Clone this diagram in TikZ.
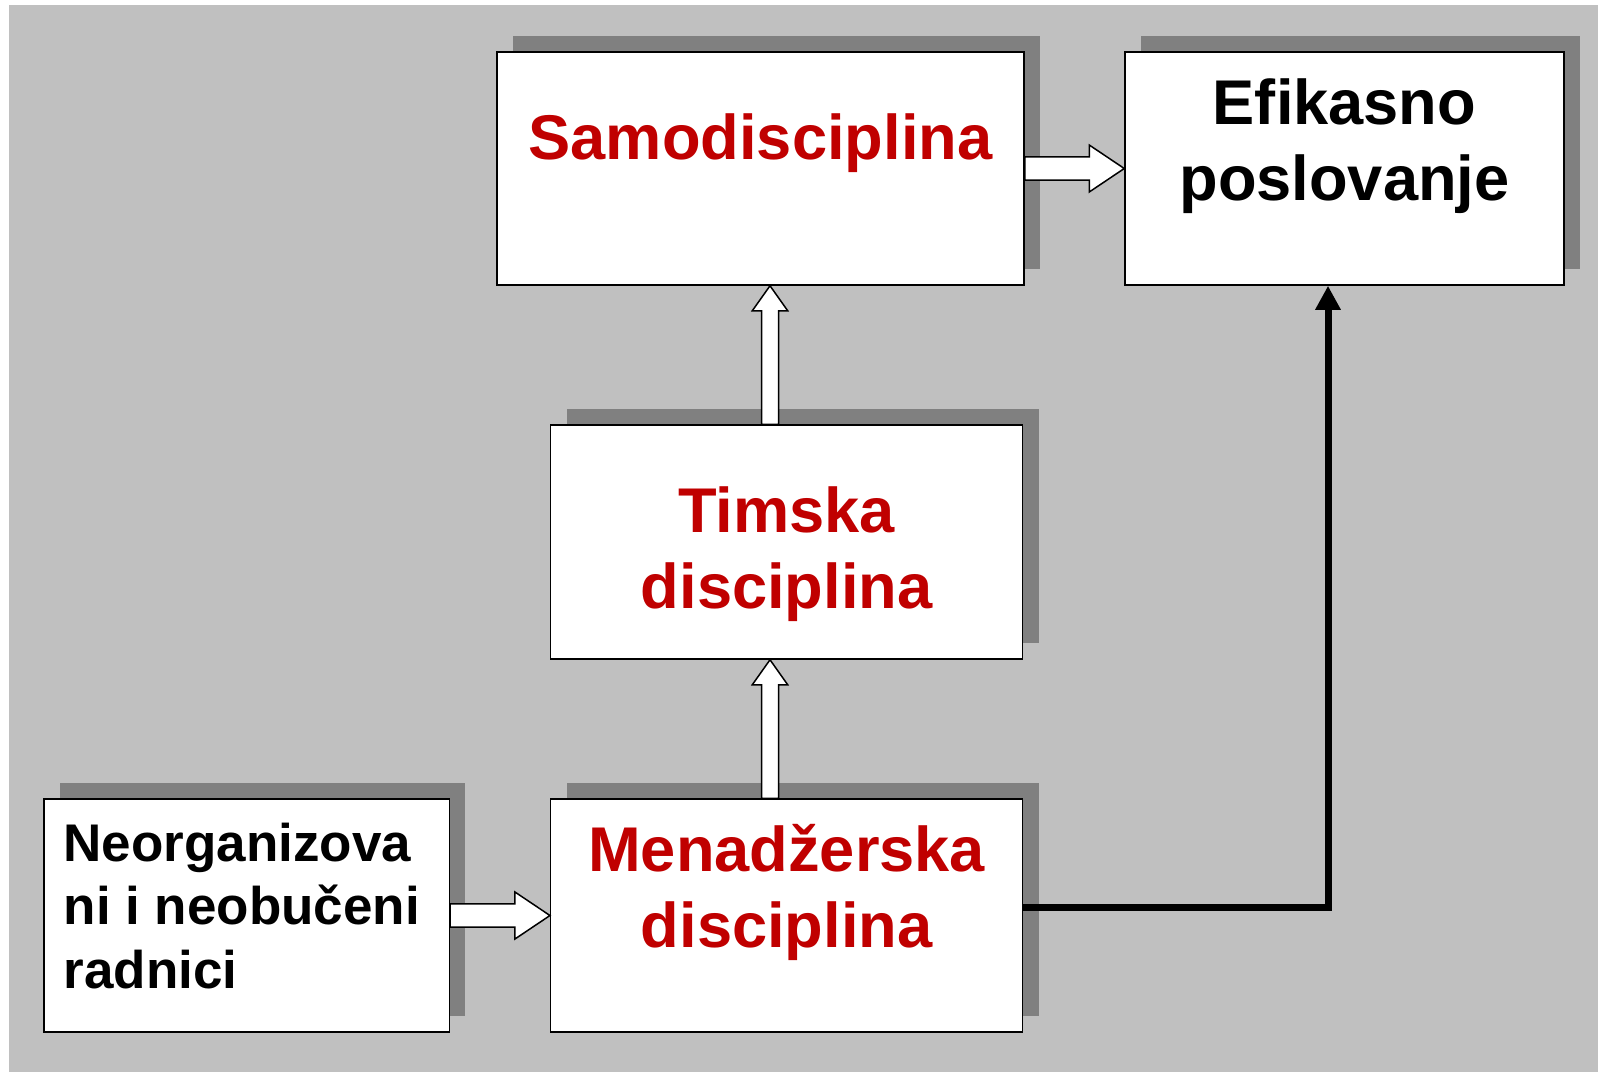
\documentclass[tikz,border=0pt]{standalone}
\usepackage{fontspec}
\setmainfont{Liberation Sans}
\usetikzlibrary{arrows.meta,positioning,calc,shadows}
\definecolor{panel}{HTML}{C0C0C0}
\definecolor{shade}{HTML}{808080}
\definecolor{accentred}{HTML}{C00000}
\tikzset{
  stagebox/.style={draw=black,fill=white,line width=0.75pt,inner sep=0pt,
                   drop shadow={shadow xshift=8pt,shadow yshift=8pt,fill=shade,opacity=1}},
  redlabel/.style={inner sep=0pt,align=center,text=accentred,
                   font=\fontsize{31.6pt}{38pt}\selectfont\bfseries},
  inklabel/.style={inner sep=0pt,align=center,text=black,
                   font=\fontsize{31.6pt}{38pt}\selectfont\bfseries},
  leftlabel/.style={inner sep=0pt,align=left,text=black,
                    font=\fontsize{26.5pt}{31.75pt}\selectfont\bfseries},
  blockarr/.style={draw=black,fill=white,line width=0.75pt,line join=miter},
  thickarr/.style={-{Triangle[length=12pt,width=12pt]},line width=3.5pt,line join=miter}
}
% block arrow: start, end, shaft half width, head half width, head length
\newcommand{\blockarrow}[5]{%
  \coordinate (neck) at ($(#2)!#5!(#1)$);
  \draw[blockarr] ($(#1)!#3!90:(#2)$) -- ($(neck)!#3!-90:(#1)$)
    -- ($(neck)!#4!-90:(#1)$) -- (#2) -- ($(neck)!#4!90:(#1)$)
    -- ($(neck)!#3!90:(#1)$) -- ($(#1)!#3!-90:(#2)$) -- cycle;
}

\begin{document}
\begin{tikzpicture}[x=0.5pt,y=-0.5pt]
  \useasboundingbox (0,0) rectangle (1602,1072);
  \fill[panel] (9,5) rectangle (1598,1072);

  % stages
  \node[stagebox,minimum width=263.5pt,minimum height=116.5pt] (samo) at (760.5,168.5) {};
  \node[stagebox,minimum width=219.5pt,minimum height=116.5pt] (efik) at (1344.5,168.5) {};
  \node[stagebox,minimum width=236pt,minimum height=117pt] (timska) at (786.7,542) {};
  \node[stagebox,minimum width=236pt,minimum height=116.5pt] (menad) at (786.7,915.5) {};
  \node[stagebox,minimum width=202.7pt,minimum height=116.5pt] (neorg) at (246.7,915.5) {};

  % labels
  \node[redlabel,below=31pt of samo.north] (samotxt) {Samodisciplina};
  \node[inklabel,below=13.5pt of efik.north] (efiktxt) {Efikasno\\poslovanje};
  \node[redlabel,below=31pt of timska.north] (timskatxt) {Timska\\disciplina};
  \node[redlabel,below=13pt of menad.north] (menadtxt) {Menadžerska\\disciplina};
  \node[leftlabel,below right=12pt and 10pt of neorg.north west] (neorgtxt)
    {Neorganizova\\ni i neobučeni\\radnici};

  % connectors
  \coordinate (upline) at (770,0);
  \coordinate (sideline) at (1328,0);
  \blockarrow{neorg.east}{menad.west}{5.85pt}{11.75pt}{17.5pt}
  \blockarrow{samo.east}{efik.west}{5.85pt}{11.75pt}{17.5pt}
  \blockarrow{menad.north -| upline}{timska.south -| upline}{4.25pt}{8.85pt}{12.5pt}
  \blockarrow{timska.north -| upline}{samo.south -| upline}{4.25pt}{8.85pt}{12.5pt}
  \draw[thickarr] ($(menad.east)+(0,-8)$) -| (efik.south -| sideline);
\end{tikzpicture}
\end{document}
